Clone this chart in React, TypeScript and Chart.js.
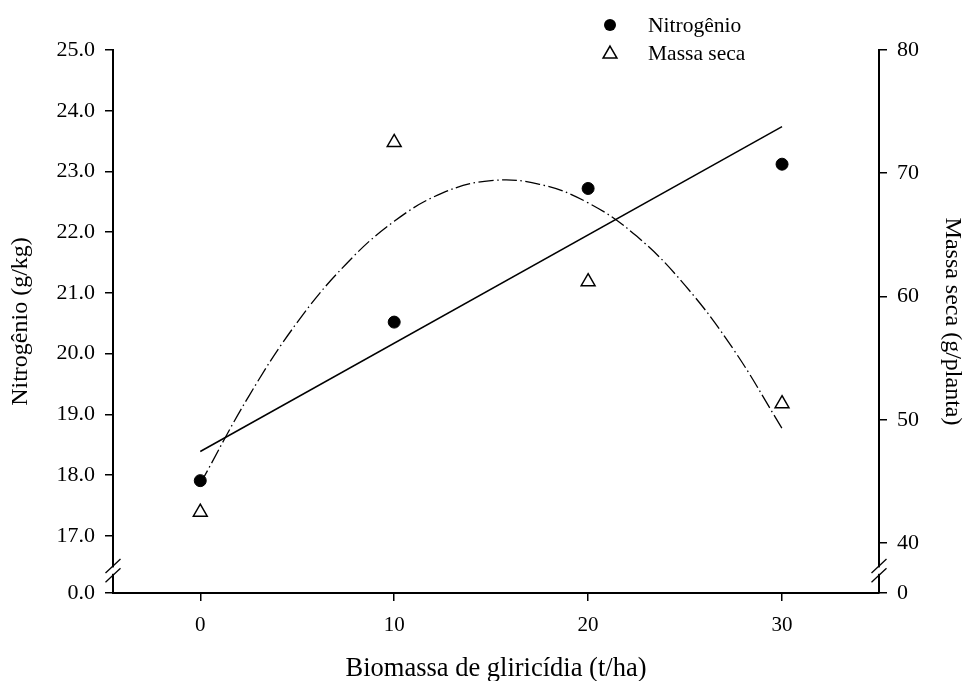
import { useEffect, useRef } from "react";
import { Chart, registerables } from "chart.js";

Chart.register(...registerables);

// ---- data ----
const biomassa = [0, 10, 20, 30];
const nitrogenio = [17.91, 20.52, 22.72, 23.12];
const massaSeca = [42.5, 72.5, 61.2, 51.3];

// fitted lines
const nitroFitX = [0, 30];
const nitroFitY = [18.39, 23.74];
const massaFitX = [0, 2.5, 5, 7.5, 10, 12.5, 15, 17.5, 20, 22.5, 25, 27.5, 30];
const massaFitY = [44.8, 51.9, 57.9, 62.6, 66.1, 68.4, 69.4, 69.1, 67.6, 64.9, 60.9, 55.7, 49.3];

// axes
const xTicks = [0, 10, 20, 30];
const xMin = -4.5;
const xMax = 35;
const leftTicks = [17, 18, 19, 20, 21, 22, 23, 24, 25];
const leftBreakValue = 16.06; // shown as "0.0" below the axis break
const leftBreakLabel = "0.0";
const rightTicks = [40, 50, 60, 70, 80];
const rightBreakValue = 35.94; // shown as "0" below the axis break
const rightBreakLabel = "0";

const xTitle = "Biomassa de gliricídia (t/ha)";
const leftTitle = "Nitrogênio (g/kg)";
const rightTitle = "Massa seca (g/planta)";
const legendLabels = ["Nitrogênio", "Massa seca"];

const SERIF = '"Liberation Serif", "Times New Roman", serif';

const W = 968;
const H = 681;
const AREA = { left: 113, right: 879, top: 50, bottom: 593 };

const decorPlugin = {
  id: "decor",
  afterDraw(chart: any) {
    const ctx = chart.ctx as CanvasRenderingContext2D;
    const { left, right, bottom } = chart.chartArea;
    const yc = bottom - 22.4;
    // axis breaks
    for (const X of [left, right]) {
      ctx.save();
      ctx.fillStyle = "#fff";
      ctx.fillRect(X - 2, yc - 3.2, 4, 6.4);
      ctx.strokeStyle = "#000";
      ctx.lineWidth = 1.3;
      for (const off of [-4.6, 4.6]) {
        ctx.beginPath();
        ctx.moveTo(X - 7.5, yc + off + 7);
        ctx.lineTo(X + 7.5, yc + off - 7);
        ctx.stroke();
      }
      ctx.restore();
    }
    // legend
    ctx.save();
    const mx = 610;
    const tx = 648;
    const rows = [26, 54];
    ctx.fillStyle = "#000";
    ctx.beginPath();
    ctx.arc(mx, 25, 6, 0, Math.PI * 2);
    ctx.fill();
    const r = 8;
    const cy = 54;
    ctx.beginPath();
    for (let i = 0; i < 3; i++) {
      const a = (i * 2 * Math.PI) / 3;
      const px = mx + Math.sin(a) * r;
      const py = cy - Math.cos(a) * r;
      if (i === 0) ctx.moveTo(px, py);
      else ctx.lineTo(px, py);
    }
    ctx.closePath();
    ctx.fillStyle = "#fff";
    ctx.fill();
    ctx.strokeStyle = "#000";
    ctx.lineWidth = 1.5;
    ctx.stroke();
    ctx.fillStyle = "#000";
    ctx.font = `21.5px ${SERIF}`;
    ctx.textBaseline = "middle";
    ctx.textAlign = "left";
    ctx.fillText(legendLabels[0], tx, rows[0]);
    ctx.fillText(legendLabels[1], tx, rows[1]);
    ctx.restore();
  },
};

export default function App() {
  const ref = useRef<HTMLCanvasElement | null>(null);

  useEffect(() => {
    document.body.style.margin = "0";
    const canvas = ref.current;
    if (!canvas) return;

    const gridCommon = {
      display: true,
      drawOnChartArea: false,
      drawTicks: true,
      tickLength: 8,
      color: "#000",
      lineWidth: 1.5,
    };
    const borderCommon = { display: true, color: "#000", width: 2 };

    const chart = new Chart(canvas, {
      type: "scatter",
      data: {
        datasets: [
          {
            label: legendLabels[0],
            data: biomassa.map((x, i) => ({ x, y: nitrogenio[i] })),
            yAxisID: "yL",
            pointStyle: "circle",
            pointRadius: 6,
            pointBackgroundColor: "#000",
            pointBorderColor: "#000",
            pointBorderWidth: 1,
            showLine: false,
            order: 1,
          },
          {
            label: legendLabels[1],
            data: biomassa.map((x, i) => ({ x, y: massaSeca[i] })),
            yAxisID: "yR",
            pointStyle: "triangle",
            pointRadius: 8,
            pointBackgroundColor: "#fff",
            pointBorderColor: "#000",
            pointBorderWidth: 1.5,
            showLine: false,
            order: 2,
          },
          {
            label: "fit N",
            data: nitroFitX.map((x, i) => ({ x, y: nitroFitY[i] })),
            yAxisID: "yL",
            showLine: true,
            pointRadius: 0,
            borderColor: "#000",
            borderWidth: 1.5,
            order: 3,
          },
          {
            label: "fit MS",
            data: massaFitX.map((x, i) => ({ x, y: massaFitY[i] })),
            yAxisID: "yR",
            showLine: true,
            pointRadius: 0,
            borderColor: "#000",
            borderWidth: 1.3,
            borderDash: [15, 3.5, 1.5, 3.5],
            tension: 0.4,
            order: 4,
          },
        ],
      },
      options: {
        responsive: false,
        animation: false,
        events: [],
        layout: { padding: { top: AREA.top, left: 0, right: 0, bottom: 0 } },
        plugins: {
          legend: { display: false },
          tooltip: { enabled: false },
          title: { display: false },
        },
        scales: {
          x: {
            type: "linear",
            position: "bottom",
            min: xMin,
            max: xMax,
            grid: gridCommon,
            border: borderCommon,
            afterBuildTicks: (axis: any) => {
              axis.ticks = xTicks.map((v) => ({ value: v }));
            },
            afterFit: (axis: any) => {
              axis.height = H - AREA.bottom;
            },
            ticks: {
              color: "#000",
              padding: 12,
              font: { family: SERIF, size: 21 },
              callback: (v: any) => String(v),
            },
            title: {
              display: true,
              text: xTitle,
              color: "#000",
              font: { family: SERIF, size: 26.5 },
              padding: { top: 0, bottom: -4 },
            },
          },
          yL: {
            type: "linear",
            position: "left",
            min: leftBreakValue,
            max: 25,
            grid: gridCommon,
            border: borderCommon,
            afterBuildTicks: (axis: any) => {
              axis.ticks = [leftBreakValue, ...leftTicks].map((v) => ({ value: v }));
            },
            afterFit: (axis: any) => {
              axis.width = AREA.left;
            },
            ticks: {
              color: "#000",
              padding: 10,
              font: { family: SERIF, size: 22 },
              callback: (v: any) =>
                Math.abs(Number(v) - leftBreakValue) < 1e-6 ? leftBreakLabel : Number(v).toFixed(1),
            },
            title: {
              display: true,
              text: leftTitle,
              color: "#000",
              font: { family: SERIF, size: 24 },
              padding: { top: 6, bottom: 0 },
            },
          },
          yR: {
            type: "linear",
            position: "right",
            min: rightBreakValue,
            max: 80,
            grid: gridCommon,
            border: borderCommon,
            afterBuildTicks: (axis: any) => {
              axis.ticks = [rightBreakValue, ...rightTicks].map((v) => ({ value: v }));
            },
            afterFit: (axis: any) => {
              axis.width = W - AREA.right;
            },
            ticks: {
              color: "#000",
              padding: 10,
              font: { family: SERIF, size: 22 },
              callback: (v: any) =>
                Math.abs(Number(v) - rightBreakValue) < 1e-6 ? rightBreakLabel : String(Math.round(Number(v))),
            },
            title: {
              display: true,
              text: rightTitle,
              color: "#000",
              font: { family: SERIF, size: 24 },
              padding: { top: 1, bottom: 0 },
            },
          },
        },
      },
      plugins: [decorPlugin],
    } as any);

    return () => chart.destroy();
  }, []);

  return (
    <div style={{ width: W, height: H }}>
      <canvas ref={ref} width={W} height={H} style={{ display: "block", width: W, height: H }} />
    </div>
  );
}
